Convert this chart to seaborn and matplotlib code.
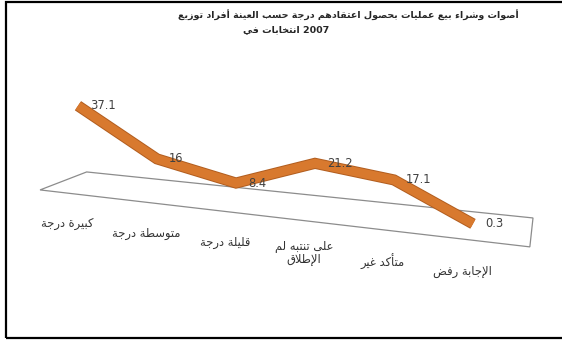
import numpy as np
import pandas as pd
import seaborn as sns
import matplotlib.pyplot as plt
import matplotlib.patheffects as pe
from matplotlib.transforms import Affine2D, ScaledTranslation
from matplotlib.patches import Polygon, Rectangle

# data
title_line1 = "توزيع أفراد العينة حسب درجة اعتقادهم بحصول عمليات بيع وشراء أصوات"
title_line2 = "في انتخابات 2007"
categories = ["درجة كبيرة", "درجة متوسطة", "درجة قليلة",
              "لم تنتبه على\nالإطلاق", "غير متأكد", "رفض الإجابة"]
values = [37.1, 16, 8.4, 21.2, 17.1, 0.3]

# minimal arabic shaping (matplotlib has none): presentation forms B
FORMS = {
    'ء': (0xFE80, 1), 'آ': (0xFE81, 2), 'أ': (0xFE83, 2), 'ؤ': (0xFE85, 2),
    'إ': (0xFE87, 2), 'ئ': (0xFE89, 4), 'ا': (0xFE8D, 2), 'ب': (0xFE8F, 4),
    'ة': (0xFE93, 2), 'ت': (0xFE95, 4), 'ث': (0xFE99, 4), 'ج': (0xFE9D, 4),
    'ح': (0xFEA1, 4), 'خ': (0xFEA5, 4), 'د': (0xFEA9, 2), 'ذ': (0xFEAB, 2),
    'ر': (0xFEAD, 2), 'ز': (0xFEAF, 2), 'س': (0xFEB1, 4), 'ش': (0xFEB5, 4),
    'ص': (0xFEB9, 4), 'ض': (0xFEBD, 4), 'ط': (0xFEC1, 4), 'ظ': (0xFEC5, 4),
    'ع': (0xFEC9, 4), 'غ': (0xFECD, 4), 'ف': (0xFED1, 4), 'ق': (0xFED5, 4),
    'ك': (0xFED9, 4), 'ل': (0xFEDD, 4), 'م': (0xFEE1, 4), 'ن': (0xFEE5, 4),
    'ه': (0xFEE9, 4), 'و': (0xFEED, 2), 'ى': (0xFEEF, 2), 'ي': (0xFEF1, 4),
}
LAM_ALEF = {'آ': 0xFEF5, 'أ': 0xFEF7, 'إ': 0xFEF9, 'ا': 0xFEFB}


def shape_word(word):
    out = []
    i = 0
    n = len(word)
    while i < n:
        ch = word[i]
        if ch not in FORMS:
            out.append(ch)
            i += 1
            continue
        prev = word[i - 1] if i > 0 else ''
        joins_prev = prev in FORMS and FORMS[prev][1] == 4
        if ch == 'ل' and i + 1 < n and word[i + 1] in LAM_ALEF:
            out.append(chr(LAM_ALEF[word[i + 1]] + int(joins_prev)))
            i += 2
            continue
        start, nf = FORMS[ch]
        nxt = word[i + 1] if i + 1 < n else ''
        joins_next = nf == 4 and nxt in FORMS
        if nf == 1:
            form = 0
        elif joins_prev and joins_next:
            form = 3
        elif joins_prev:
            form = 1
        elif joins_next:
            form = 2
        else:
            form = 0
        out.append(chr(start + form))
        i += 1
    if any(c in FORMS for c in word):
        out = out[::-1]
    return ''.join(out)


def ar(text):
    # words kept left-to-right, as in the reference rendering
    return '\n'.join(' '.join(shape_word(w) for w in line.split(' '))
                     for line in text.split('\n'))


sns.set_theme(style="white")
plt.rcParams['font.family'] = ['DejaVu Sans']

df = pd.DataFrame({"pos": np.arange(len(values)), "value": values})

fig = plt.figure(figsize=(5.62, 3.41), dpi=100)
ax = fig.add_axes([0, 0, 1, 1])

# fake 3d: skew the data space so the floor tilts down to the right
skew = Affine2D(np.array([[1, 0, 0], [-3.628, 1, 0], [0, 0, 1]]))
trans = skew + ax.transData

floor = Polygon([(-0.48, -3.8), (0.11, 6.7), (5.76, 5.8), (5.72, -7.8)],
                closed=True, fill=False, ec='#8c8c8c', lw=0.9,
                transform=trans, zorder=1)
ax.add_patch(floor)

sns.lineplot(data=df, x="pos", y="value", ax=ax, color="#D8792E",
             linewidth=6.6, transform=trans, solid_capstyle="butt",
             solid_joinstyle="miter", zorder=3,
             path_effects=[pe.Stroke(linewidth=8.0, foreground="#B15D1F"),
                           pe.Normal()])

for i, v in enumerate(values):
    ax.text(i, v, f"{v:g}", ha='left', va='center', fontsize=8.3,
            color='#404040', zorder=4,
            transform=trans + ScaledTranslation(0.12, 0, fig.dpi_scale_trans))

for i, lab in enumerate(categories):
    off = -(38 + 1.8 * i) / 100
    ax.text(i, 0, ar(lab), ha='center', va='center', fontsize=8.3,
            color='#333333', linespacing=1.05,
            transform=trans + ScaledTranslation(-0.11, off, fig.dpi_scale_trans))

ax.set_xlim(-0.987, 6.127)
ax.set_ylim(-72.33, 86.28)
ax.axis('off')

fig.text(0.619, 0.956, ar(title_line1), ha='center', va='center',
         fontsize=6.8, fontweight='bold', color='#262626')
fig.text(0.509, 0.912, ar(title_line2), ha='center', va='center',
         fontsize=6.8, fontweight='bold', color='#262626')

fig.add_artist(Rectangle((6 / 562, 3 / 341), 1.0, 336 / 341,
                         transform=fig.transFigure, fill=False,
                         ec='black', lw=1.6))

fig.savefig("out.png", dpi=100)
